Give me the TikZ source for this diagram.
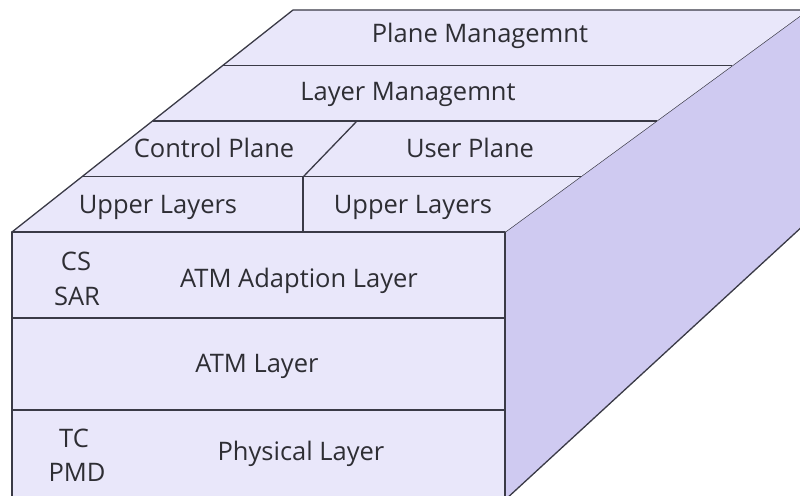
\documentclass[tikz,border=0pt]{standalone}
\usepackage{fontspec}
\setmainfont{Open Sans}
\usepackage{tikz}
\usetikzlibrary{positioning,calc}

\definecolor{facefront}{HTML}{E9E7FA}
\definecolor{faceside}{HTML}{CFCAF1}
\definecolor{edgegray}{HTML}{3A3A46}
\definecolor{textgray}{HTML}{2E2E34}

\tikzset{
  edge/.style={draw=edgegray, line width=1.3pt, line join=round},
  lbl/.style={anchor=base, text=textgray, inner sep=0pt,
              font=\fontsize{25.5}{30}\selectfont}
}

\begin{document}
\begin{tikzpicture}[x=1pt, y=-1pt]
    \useasboundingbox (0,0) rectangle (800,495);
    \clip (0,0) rectangle (800,495);

    % corners of the block
    \coordinate (fl) at (12,232);
    \coordinate (fr) at (505,232);
    \coordinate (bl) at (293,10);
    \coordinate (br) at (808,10);
    \coordinate (sb) at (830,201);
    \coordinate (fb) at (505,500);
    \coordinate (flb) at (12,500);

    % side face
    \fill[faceside] (fr) -- (br) -- (sb) -- (fb) -- cycle;
    \draw[edge] (fr) -- (br);
    \draw[edge] (fb) -- (sb);

    % top face
    \fill[facefront] (fl) -- (bl) -- (br) -- (fr) -- cycle;
    \draw[edge] (fl) -- (bl) -- (br);
    \foreach \f in {0.25,0.5,0.75}
        \draw[edge] ($(fl)!\f!(bl)$) -- ($(fr)!\f!(br)$);
    \draw[edge] (303,177) -- (357,121);
    \draw[edge] (303,177) -- (303,232);

    % front face
    \fill[facefront] (fl) rectangle (fb);
    \draw[edge] (flb) -- (fl) -- (fr) -- (fb);
    \draw[edge] (12,318) -- (505,318);
    \draw[edge] (12,410) -- (505,410);

    \node[lbl] (planemgmt) at (480,43) {Plane Managemnt};
    \node[lbl] (layermgmt) at (408,100) {Layer Managemnt};
    \node[lbl] (ctrlplane) at (214,157) {Control Plane};
    \node[lbl] (userplane) at (470,157) {User Plane};
    \node[lbl] (upperl) at (158,213) {Upper Layers};
    \node[lbl] (upperr) at (413,213) {Upper Layers};

    \node[lbl] (cs) at (76,270) {CS};
    \node[lbl] (sar) at (77,305) {SAR};
    \node[lbl] (aal) at (299,287) {ATM Adaption Layer};
    \node[lbl] (atm) at (257,372) {ATM Layer};
    \node[lbl] (tc) at (74,447) {TC};
    \node[lbl] (pmd) at (77,481) {PMD};
    \node[lbl] (phy) at (301,460) {Physical Layer};

\end{tikzpicture}
\end{document}
